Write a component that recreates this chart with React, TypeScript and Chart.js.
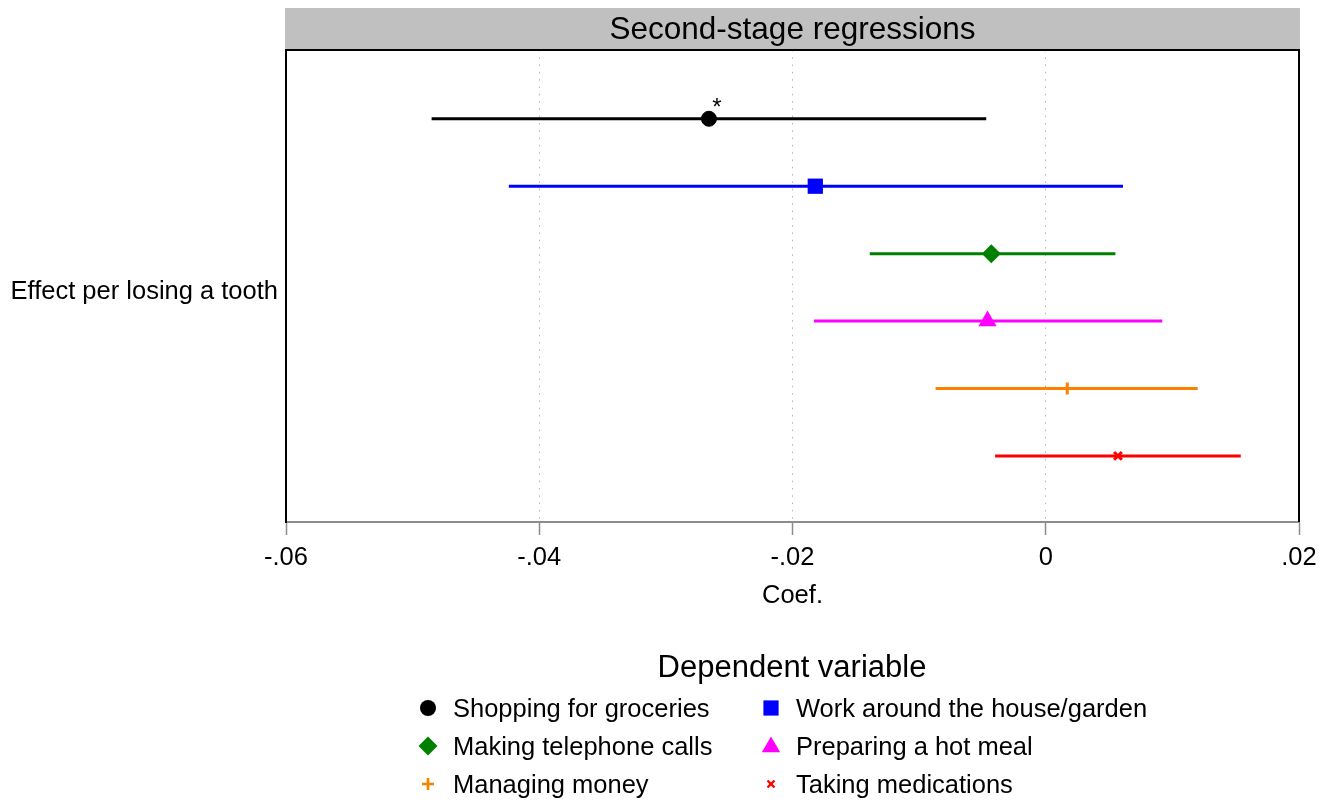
import React, { useEffect, useRef } from "react";
import { Chart, registerables } from "chart.js";

Chart.register(...registerables);

const FONT = "'Liberation Sans', Arial, Helvetica, sans-serif";

// ---------- data ----------
const categories = [
  "Shopping for groceries",
  "Work around the house/garden",
  "Making telephone calls",
  "Preparing a hot meal",
  "Managing money",
  "Taking medications",
];
const coefs = [-0.0266, -0.0182, -0.0043, -0.0046, 0.0017, 0.0057];
const ciLow = [-0.0485, -0.0424, -0.0139, -0.0183, -0.0087, -0.004];
const ciHigh = [-0.0047, 0.0061, 0.0055, 0.0092, 0.012, 0.0154];
const rowPos = [1, 2, 3, 4, 5, 6];
const significance = ["*", "", "", "", "", ""];

const xTickValues = [-0.06, -0.04, -0.02, 0, 0.02];
const xTickLabels = ["-.06", "-.04", "-.02", "0", ".02"];
const yTickValues = [3.57];
const yTickLabels = ["Effect per losing a tooth"];

const chartTitle = "Second-stage regressions";
const xAxisTitle = "Coef.";
const legendTitle = "Dependent variable";

// ---------- styles ----------
const colors = ["#000000", "#0000ff", "#008000", "#ff00ff", "#ff8000", "#ff0000"];
const pointStyles = ["circle", "rect", "rectRot", "triangle", "cross", "crossRot"];
const pointRadii = [7.5, 10.8, 9.5, 10.5, 6, 5.5];
const pointBorders = [1, 0, 0, 0, 3, 3];

function markerSvg(i: number) {
  const c = colors[i];
  const s = 24;
  const h = s / 2;
  let shape: any = null;
  switch (pointStyles[i]) {
    case "circle":
      shape = <circle cx={h} cy={h} r={8} fill={c} />;
      break;
    case "rect":
      shape = <rect x={h - 7.6} y={h - 7.6} width={15.2} height={15.2} fill={c} />;
      break;
    case "rectRot":
      shape = (
        <polygon
          points={`${h},${h - 9.5} ${h + 9.5},${h} ${h},${h + 9.5} ${h - 9.5},${h}`}
          fill={c}
        />
      );
      break;
    case "triangle":
      shape = (
        <polygon
          points={`${h},${h - 9.5} ${h + 9.2},${h + 6.3} ${h - 9.2},${h + 6.3}`}
          fill={c}
        />
      );
      break;
    case "cross":
      shape = (
        <g stroke={c} strokeWidth={2.6}>
          <line x1={h - 6} y1={h} x2={h + 6} y2={h} />
          <line x1={h} y1={h - 6} x2={h} y2={h + 6} />
        </g>
      );
      break;
    case "crossRot":
      shape = (
        <g stroke={c} strokeWidth={2.4}>
          <line x1={h - 3.5} y1={h - 3.5} x2={h + 3.5} y2={h + 3.5} />
          <line x1={h - 3.5} y1={h + 3.5} x2={h + 3.5} y2={h - 3.5} />
        </g>
      );
      break;
  }
  return (
    <svg width={s} height={s} style={{ display: "block" }}>
      {shape}
    </svg>
  );
}

const decorPlugin = {
  id: "decor",
  beforeDraw(chart: any) {
    const { ctx, chartArea } = chart;
    ctx.save();
    ctx.fillStyle = "#c0c0c0";
    ctx.fillRect(chartArea.left - 1, 8, chartArea.right - chartArea.left + 2, chartArea.top - 8);
    ctx.restore();
  },
  afterDraw(chart: any) {
    const { ctx, chartArea } = chart;
    ctx.save();
    // frame top & right
    ctx.strokeStyle = "#000";
    ctx.lineWidth = 2;
    ctx.beginPath();
    ctx.moveTo(chartArea.left - 1, chartArea.top);
    ctx.lineTo(chartArea.right, chartArea.top);
    ctx.lineTo(chartArea.right, chartArea.bottom);
    ctx.stroke();
    // title
    ctx.fillStyle = "#000";
    ctx.textAlign = "center";
    ctx.textBaseline = "alphabetic";
    ctx.font = `31.5px ${FONT}`;
    const cx = (chartArea.left + chartArea.right) / 2;
    ctx.fillText(chartTitle, cx, chartArea.top - 11);
    // x axis title
    ctx.font = `25.5px ${FONT}`;
    ctx.fillText(xAxisTitle, cx, chartArea.bottom + 81);
    // significance stars
    ctx.font = `24px ${FONT}`;
    significance.forEach((s, i) => {
      if (!s) return;
      const meta = chart.getDatasetMeta(categories.length + i);
      const el = meta.data[0];
      if (!el) return;
      ctx.fillText(s, el.x + 8, el.y - 4);
    });
    ctx.restore();
  },
};

export default function App() {
  const ref = useRef<HTMLCanvasElement>(null);

  useEffect(() => {
    if (!ref.current) return;
    const datasets: any[] = [];
    categories.forEach((c, i) => {
      datasets.push({
        label: c + " CI",
        data: [
          { x: ciLow[i], y: rowPos[i] },
          { x: ciHigh[i], y: rowPos[i] },
        ],
        showLine: true,
        borderColor: colors[i],
        backgroundColor: colors[i],
        borderWidth: 3,
        pointRadius: 0,
        order: 2,
      });
    });
    categories.forEach((c, i) => {
      datasets.push({
        label: c,
        data: [{ x: coefs[i], y: rowPos[i] }],
        pointStyle: pointStyles[i],
        pointRadius: pointRadii[i],
        backgroundColor: colors[i],
        borderColor: colors[i],
        borderWidth: pointBorders[i],
        order: 1,
      });
    });

    const chart = new Chart(ref.current, {
      type: "scatter",
      data: { datasets },
      options: {
        animation: false,
        responsive: false,
        events: [],
        layout: { padding: { top: 50, right: 38, left: 0, bottom: 0 } },
        plugins: {
          legend: { display: false },
          tooltip: { enabled: false },
          title: { display: false },
        },
        scales: {
          x: {
            type: "linear",
            min: -0.06,
            max: 0.02,
            afterBuildTicks: (s: any) => {
              s.ticks = xTickValues.map((v) => ({ value: v }));
            },
            afterFit: (s: any) => {
              s.height = 281;
            },
            ticks: {
              autoSkip: false,
              maxRotation: 0,
              padding: 8,
              color: "#000",
              font: { family: FONT, size: 25.5 },
              callback: (_v: any, i: number) => xTickLabels[i],
            },
            grid: {
              color: (ctx: any) => {
                const v = ctx.tick ? ctx.tick.value : null;
                if (v === xTickValues[0] || v === xTickValues[xTickValues.length - 1])
                  return "rgba(0,0,0,0)";
                return "#b4b4b4";
              },
              lineWidth: 1,
              drawTicks: true,
              tickLength: 13,
              tickColor: "#8c8c8c",
              tickWidth: 1.5,
              tickBorderDash: [],
            },
            border: { display: true, color: "#8c8c8c", width: 2, dash: [1.5, 5.8] },
          },
          y: {
            type: "linear",
            min: -0.02,
            max: 6.98,
            reverse: true,
            afterBuildTicks: (s: any) => {
              s.ticks = yTickValues.map((v) => ({ value: v }));
            },
            afterFit: (s: any) => {
              s.width = 286;
            },
            ticks: {
              autoSkip: false,
              padding: 8,
              color: "#000",
              font: { family: FONT, size: 25.5 },
              callback: (_v: any, i: number) => yTickLabels[i],
            },
            grid: { display: false, drawTicks: false },
            border: { display: true, color: "#000", width: 2 },
          },
        },
      },
      plugins: [decorPlugin],
    } as any);
    return () => chart.destroy();
  }, []);

  const legendRowsTop = [693.2, 731.2, 769.2];
  const markerCenterY = [708, 746, 784];
  const colMarkerX = [428, 771];
  const colTextX = [453, 796];

  return (
    <div
      style={{
        position: "absolute",
        left: 0,
        top: 0,
        width: 1337,
        height: 803,
        background: "#fff",
        fontFamily: FONT,
        color: "#000",
        overflow: "hidden",
      }}
    >
      <canvas ref={ref} width={1337} height={803} style={{ display: "block" }} />
      <div
        style={{
          position: "absolute",
          left: 292,
          width: 1000,
          top: 649.2,
          textAlign: "center",
          fontSize: 31,
          lineHeight: "36px",
          whiteSpace: "nowrap",
        }}
      >
        {legendTitle}
      </div>
      {categories.map((c, i) => {
        const row = Math.floor(i / 2);
        const col = i % 2;
        return (
          <React.Fragment key={c}>
            <div
              style={{
                position: "absolute",
                left: colMarkerX[col] - 12,
                top: markerCenterY[row] - 12,
              }}
            >
              {markerSvg(i)}
            </div>
            <div
              style={{
                position: "absolute",
                left: colTextX[col],
                top: legendRowsTop[row],
                fontSize: 25.5,
                lineHeight: "30px",
                whiteSpace: "nowrap",
              }}
            >
              {c}
            </div>
          </React.Fragment>
        );
      })}
    </div>
  );
}
